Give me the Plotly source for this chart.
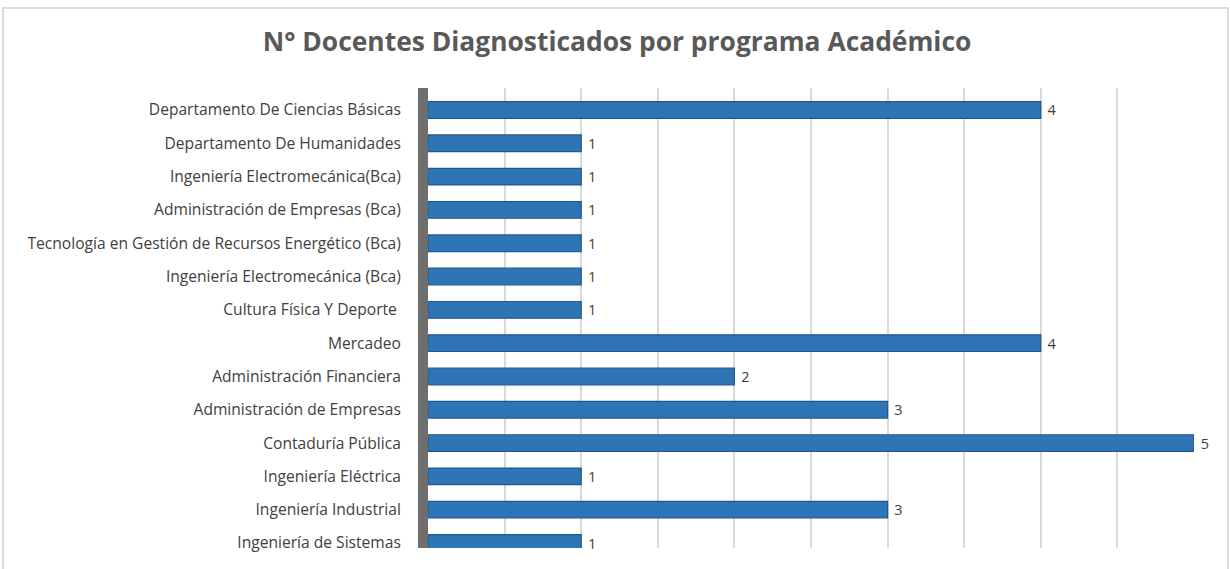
import plotly.graph_objects as go

# Categories listed top to bottom as in the reference
programas = [
    "Departamento De Ciencias Básicas",
    "Departamento De Humanidades",
    "Ingeniería Electromecánica(Bca)",
    "Administración de Empresas (Bca)",
    "Tecnología en Gestión de Recursos Energético (Bca)",
    "Ingeniería Electromecánica (Bca)",
    "Cultura Física Y Deporte ",
    "Mercadeo",
    "Administración Financiera",
    "Administración de Empresas",
    "Contaduría Pública",
    "Ingeniería Eléctrica",
    "Ingeniería Industrial",
    "Ingeniería de Sistemas",
]
docentes = [4, 1, 1, 1, 1, 1, 1, 4, 2, 3, 5, 1, 3, 1]

titulo = "N° Docentes Diagnosticados por programa Académico"

W, H = 1230, 569
L, R, T, B = 428, 36, 88, 21
FONT = "Open Sans, Lato, sans-serif"

fig = go.Figure()
fig.add_trace(go.Bar(
    y=programas,
    x=docentes,
    orientation="h",
    width=0.5,
    marker=dict(color="#2E75B6", line=dict(color="#22598C", width=1.2)),
    text=["\u00a0" + str(v) for v in docentes],
    textposition="outside",
    constraintext="none",
    textfont=dict(family=FONT, size=14.5, color="#404040"),
    cliponaxis=False,
    hoverinfo="x+y",
))

pw = W - L - R
ph = H - T - B
# outer chart border (paper coordinates relative to plot area)
fig.add_shape(
    type="rect", xref="paper", yref="paper",
    x0=(3 - L) / pw, x1=(W - 2 - L) / pw,
    y0=-(B + 10) / ph, y1=(H - B - 8) / ph,
    line=dict(color="#D0D0D0", width=1.5), fillcolor="rgba(0,0,0,0)", layer="below",
)

fig.update_layout(
    width=W, height=H,
    margin=dict(l=L, r=R, t=T, b=B),
    paper_bgcolor="white", plot_bgcolor="white",
    showlegend=False,
    title=dict(
        text="<b>" + titulo + "</b>",
        x=617 / W, xref="container", xanchor="center",
        y=1 - 42 / H, yref="container", yanchor="middle",
        font=dict(family="Open Sans, sans-serif", size=26.4, color="#595959"),
    ),
)

fig.update_xaxes(
    range=[0, 5], dtick=0.5, showticklabels=False,
    showgrid=True, gridcolor="#D9D9D9", gridwidth=2,
    zeroline=False, showline=False,
)
fig.update_yaxes(
    categoryorder="array", categoryarray=programas[::-1],
    range=[-0.15, 13.66],
    showgrid=False, zeroline=False,
    showline=True, linecolor="#6E6E6E", linewidth=10,
    ticks="", ticklabelstandoff=14,
    tickfont=dict(family=FONT, size=15.6, color="#404040"),
)

fig.write_html("out.html", config={"displayModeBar": False},
               post_script="document.body.style.margin='0';")
